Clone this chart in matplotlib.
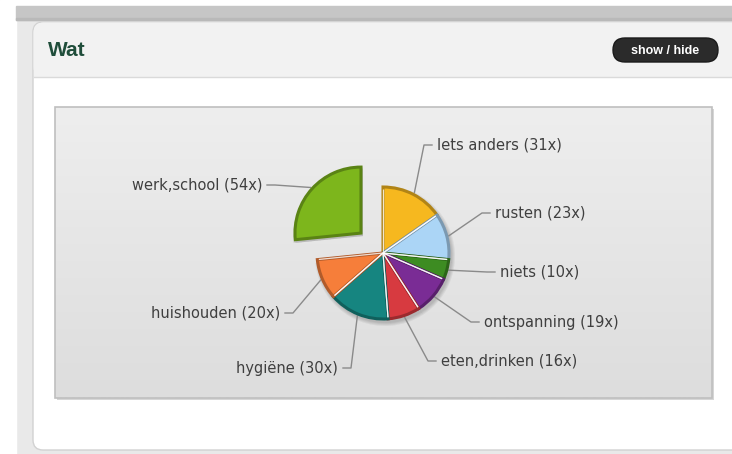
import numpy as np
import matplotlib
matplotlib.use("Agg")
import matplotlib.pyplot as plt
from matplotlib.patches import FancyBboxPatch, Rectangle
from matplotlib.colors import to_rgb

# Data
labels = ["Iets anders", "rusten", "niets", "ontspanning", "eten,drinken",
          "hygiëne", "huishouden", "werk,school"]
counts = [31, 23, 10, 19, 16, 30, 20, 54]
colors = ["#f6b81f", "#abd5f6", "#3d8c22", "#7a2c95", "#d73a40",
          "#168580", "#f67e3a", "#7db61c"]
exploded = [0, 0, 0, 0, 0, 0, 0, 1]

# Layout (pixels, y down)
W, H = 732, 454
pie_center = (383, 253)
pie_r = 66
label_pos = [(437, 145), (495, 213), (500, 272), (484, 322), (441, 361),
             (338, 368), (280, 313), (262, 185)]


def darker(c, f=0.72):
    r, g, b = to_rgb(c)
    return (r * f, g * f, b * f)


fig = plt.figure(figsize=(W / 100, H / 100), dpi=100, facecolor="#e9e9e9")
ax = fig.add_axes([0, 0, 1, 1])
ax.set_facecolor("#e9e9e9")

# page background
ax.add_patch(Rectangle((0, 0), 16, H, color="white", zorder=0))
ax.add_patch(Rectangle((0, 0), W, 6, color="white", zorder=0))
ax.add_patch(Rectangle((16, 6), W, 14, color="#c6c6c6", zorder=0))
ax.add_patch(Rectangle((16, 18), W, 2, color="#b9b9b9", zorder=0))

# panel
ax.add_patch(FancyBboxPatch((33, 22), W, 428, boxstyle="round,pad=0,rounding_size=10",
                            fc="white", ec="#d2d2d2", lw=1, zorder=1))
ax.add_patch(FancyBboxPatch((33.5, 22.5), W, 54.5, boxstyle="round,pad=0,rounding_size=10",
                            fc="#f2f2f2", ec="none", zorder=1))
ax.add_patch(Rectangle((33.5, 60), W, 17, fc="#f2f2f2", ec="none", zorder=1))
ax.plot([33.5, W], [77, 77], color="#dadada", lw=1, zorder=2)

ax.text(48, 50, "Wat", fontsize=15, fontweight="bold", color="#1f4d3a",
        family="Liberation Sans", va="center", ha="left", zorder=3)
ax.add_patch(FancyBboxPatch((613, 38), 105, 24, boxstyle="round,pad=0,rounding_size=12",
                            fc="#2b2b2b", ec="#1a1a1a", lw=1, zorder=3))
ax.text(665.5, 50.5, "show / hide", fontsize=9, fontweight="bold", color="white",
        family="Liberation Sans", va="center", ha="center", zorder=4)

# chart box with gradient
ax.add_patch(Rectangle((57, 109), 657, 291, fc="#d6d6d6", ec="none", zorder=2))
grad = np.linspace(0, 1, 200).reshape(-1, 1)
top, bot = np.array(to_rgb("#eeeeee")), np.array(to_rgb("#dddddd"))
img = top + (bot - top) * grad[..., None]
ax.imshow(img, extent=[55, 712, 398, 107], origin="upper", aspect="auto", zorder=3)
ax.add_patch(Rectangle((55, 107), 657, 291, fc="none", ec="#bfbfbf", lw=1.2, zorder=4))

# pie: y axis is inverted, so startangle=-90 + counterclock gives
# a visually clockwise pie starting at 12 o'clock
expl = [e * 0.45 * pie_r for e in exploded]
for k in range(4):
    sh, _ = ax.pie(counts, explode=expl, colors=["#000000"] * len(counts),
                   startangle=-90, counterclock=True, radius=pie_r + 4 - k,
                   center=(pie_center[0] + 2, pie_center[1] + 3), frame=True,
                   wedgeprops=dict(lw=0, alpha=0.05))
    for w in sh:
        w.set_zorder(5)

wedges, _ = ax.pie(counts, explode=expl, colors=colors, startangle=-90,
                   counterclock=True, radius=pie_r, center=pie_center, frame=True,
                   wedgeprops=dict(lw=2.2))
for w, c in zip(wedges, colors):
    w.set_edgecolor(darker(c))
    w.set_zorder(6)

# light separators between the joined slices
for w, e in zip(wedges, exploded):
    if e:
        continue
    for th in (w.theta1, w.theta2):
        t = np.deg2rad(th)
        cx, cy = w.center
        ax.plot([cx, cx + (pie_r - 1.5) * np.cos(t)], [cy, cy + (pie_r - 1.5) * np.sin(t)],
                color="white", lw=0.9, alpha=0.8, zorder=7, solid_capstyle="butt")

# labels and connectors
for w, name, n, (lx, ly) in zip(wedges, labels, counts, label_pos):
    t = np.deg2rad((w.theta1 + w.theta2) / 2)
    cx, cy = w.center
    ex, ey = cx + (pie_r + 2) * np.cos(t), cy + (pie_r + 2) * np.sin(t)
    s = 1 if np.cos(t) > 0 else -1
    ax.plot([ex, lx - s * 13, lx - s * 5], [ey, ly, ly], color="#8a8a8a", lw=1,
            zorder=5, solid_joinstyle="round")
    ax.text(lx, ly, f"{name} ({n}x)", fontsize=10.5, color="#3f3f3f",
            family="DejaVu Sans", ha="left" if s > 0 else "right", va="center", zorder=8)

ax.set_xlim(0, W)
ax.set_ylim(H, 0)
ax.set_aspect("auto")
ax.axis("off")

fig.savefig("out.png", dpi=100, facecolor=fig.get_facecolor())
